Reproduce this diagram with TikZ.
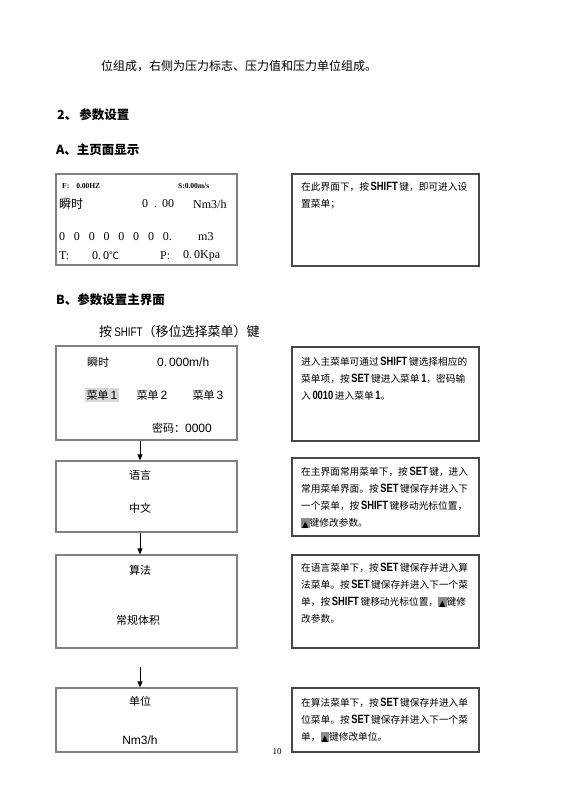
\documentclass[tikz,border=0pt]{standalone}
\usepackage{fontspec}
\setmainfont{Liberation Serif}
\newfontfamily\cjk{Noto Sans CJK SC}
\newfontfamily\arial{Liberation Sans}
\newfontfamily\narrowsans[FakeStretch=0.78]{Liberation Sans}
\newfontfamily\dejavu{DejaVu Sans}
\usetikzlibrary{arrows.meta}
\newcommand\K[1]{{\narrowsans\bfseries\fontsize{12}{13}\selectfont #1}}
\newcommand\upkey{\rlap{\color{black!45}\rule[-1.5pt]{8.5pt}{10.5pt}}\makebox[8.5pt]{\raisebox{-0.5pt}{\dejavu\fontsize{8.5}{9}\selectfont ▲}}}
\begin{document}
\begin{tikzpicture}[x=1pt,y=-1pt,
  lbox/.style={draw=black!50, line width=1.2pt, inner sep=0pt, minimum width=181pt},
  rbox/.style={draw=black!72, line width=1.2pt, inner sep=0pt, minimum width=187pt},
  arr/.style={draw=black, line width=0.8pt, -{Triangle[length=6pt,width=5pt]}},
  rtxt/.style={anchor=north west, align=left, inner sep=0pt, font=\cjk\fontsize{9.7}{17}\selectfont},
  ltxt/.style={inner sep=0pt, font=\cjk\fontsize{11}{13}\selectfont},
  head/.style={anchor=west, inner sep=0pt, font=\cjk\bfseries\fontsize{12.5}{14}\selectfont},
  lcd/.style={anchor=west, inner sep=0pt, font=\fontsize{12}{14}\selectfont},
  lcdsmall/.style={anchor=west, inner sep=0pt, font=\bfseries\fontsize{7.5}{8}\selectfont},
]
\useasboundingbox[fill=white] (0,0) rectangle (560,791);

% top text and headings
\node[anchor=west, inner sep=0pt, font=\cjk\fontsize{12}{14}\selectfont] (intro) at (101,66) {位组成，右侧为压力标志、压力值和压力单位组成。};
\node[head] (h2) at (57,115) {2、\,参数设置};
\node[head] (hA) at (56,150) {A、主页面显示};
\node[head] (hB) at (56,300) {B、参数设置主界面};
\node[anchor=west, inner sep=0pt, font=\cjk\fontsize{13}{15}\selectfont] (hint) at (99,332) {按\,{\narrowsans\fontsize{12.5}{14}\selectfont SHIFT}（移位选择菜单）键};

% boxes
\node[lbox, minimum height=91pt] (L1) at (146.5,219.5) {};
\node[rbox, minimum height=92pt] (R1) at (385.5,220) {};
\node[lbox, minimum height=94pt] (L2) at (146.5,393) {};
\node[rbox, minimum height=94pt] (R2) at (385.5,394) {};
\node[lbox, minimum height=71pt] (L3) at (146.5,496.5) {};
\node[rbox, minimum height=78pt] (R3) at (385.5,497) {};
\node[lbox, minimum height=93pt] (L4) at (146.5,601.5) {};
\node[rbox, minimum height=93pt] (R4) at (385.5,601.5) {};
\node[lbox, minimum height=64pt] (L5) at (146.5,720) {};
\node[rbox, minimum height=64pt] (R5) at (385.5,720) {};

% main display box
\node[lcdsmall] (f) at (62,186) {F:\hspace{7pt}0.00HZ};
\node[lcdsmall] (s) at (178,186) {S:0.00m/s};
\node[anchor=west, inner sep=0pt, font=\cjk\fontsize{12}{14}\selectfont] (ss) at (59,204) {瞬时};
\node[lcd] (v) at (142,204) {0\hspace{6pt}.\hspace{5pt}00};
\node[lcd] (vu) at (193,204) {Nm3/h};
\node[lcd] (tot) at (59,237) {0\hspace{8.8pt}0\hspace{8.8pt}0\hspace{8.8pt}0\hspace{8.8pt}0\hspace{8.8pt}0\hspace{8.8pt}0\hspace{8.8pt}0.};
\node[lcd] (totu) at (198,237) {m3};
\node[lcd] (t) at (59,256) {T:};
\node[lcd] (tv) at (92,256) {0.\,0{\cjk\fontsize{10}{12}\selectfont ℃}};
\node[lcd] (p) at (160,256) {P:};
\node[lcd] (pv) at (183,256) {0.\,0Kpa};

% menu box
\node[ltxt] (ss2) at (98,362) {瞬时};
\node[anchor=west, inner sep=0pt, font=\arial\fontsize{12}{14}\selectfont] (v2) at (157,362) {0.\,000m/h};
\node[ltxt, fill=black!15, inner sep=1.5pt] (m1) at (102,395) {菜单{\arial\fontsize{12}{14}\selectfont\,1}};
\node[ltxt] (m2) at (152,395) {菜单{\arial\fontsize{12}{14}\selectfont\,2}};
\node[ltxt] (m3) at (208,395) {菜单{\arial\fontsize{12}{14}\selectfont\,3}};
\node[ltxt] (pw) at (182,428) {密码：{\arial\fontsize{12}{14}\selectfont 0000}};

% language / algorithm / unit boxes
\node[ltxt] (lang) at (140,475) {语言};
\node[ltxt] (langv) at (140,508) {中文};
\node[ltxt] (alg) at (140,570) {算法};
\node[ltxt] (algv) at (138,620) {常规体积};
\node[ltxt] (unit) at (140,701) {单位};
\node[ltxt, font=\arial\fontsize{12}{14}\selectfont] (unitv) at (140,740) {Nm3/h};

% right descriptions
\node[rtxt] (d1) at (301,182) {在此界面下，按\,\K{SHIFT}\,键，即可进入设\\置菜单；};
\node[rtxt] (d2) at (301,357) {进入主菜单可通过\,\K{SHIFT}\,键选择相应的\\菜单项，按\,\K{SET}\,键进入菜单\,\K{1}，密码输\\入\,\K{0010}\,进入菜单\,\K{1}。};
\node[rtxt] (d3) at (301,467) {在主界面常用菜单下，按\,\K{SET}\,键，进入\\常用菜单界面。按\,\K{SET}\,键保存并进入下\\一个菜单，按\,\K{SHIFT}\,键移动光标位置，\\\upkey 键修改参数。};
\node[rtxt] (d4) at (301,563) {在语言菜单下，按\,\K{SET}\,键保存并进入算\\法菜单。按\,\K{SET}\,键保存并进入下一个菜\\单，按\,\K{SHIFT}\,键移动光标位置，\upkey 键修\\改参数。};
\node[rtxt] (d5) at (301,698) {在算法菜单下，按\,\K{SET}\,键保存并进入单\\位菜单。按\,\K{SET}\,键保存并进入下一个菜\\单，\upkey 键修改单位。};

% arrows
\coordinate (a4) at (140,667);
\draw[arr] ([xshift=-6.5pt]L2.south) -- ([xshift=-6.5pt]L3.north);
\draw[arr] ([xshift=-6.5pt]L3.south) -- ([xshift=-6.5pt]L4.north);
\draw[arr] (a4) -- ([xshift=-6.5pt]L5.north);

% page number
\node[inner sep=0pt, font=\fontsize{9}{10}\selectfont] (pg) at (277,752) {10};
\end{tikzpicture}
\end{document}
